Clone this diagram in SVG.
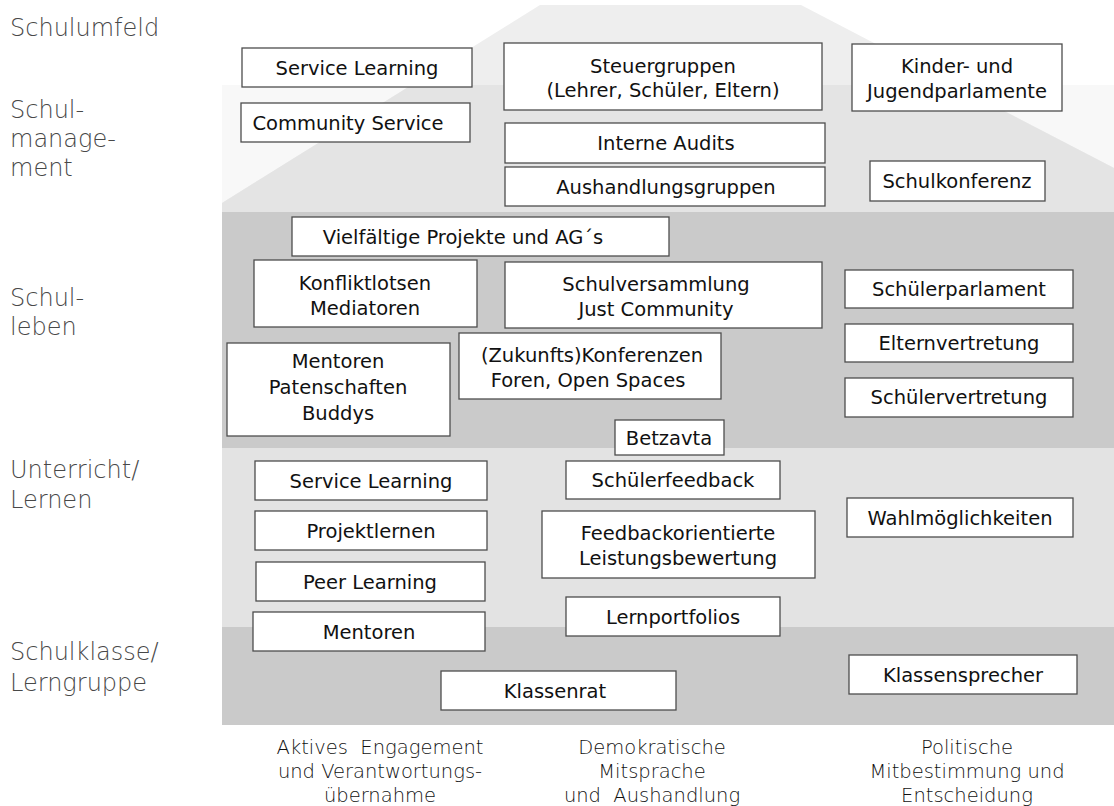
<svg xmlns="http://www.w3.org/2000/svg" width="1114" height="806" viewBox="0 0 1114 806">
  <style>
    .node rect { fill: #ffffff; stroke: #4d4d4d; stroke-width: 1.3; }
    .node text { font-family: "DejaVu Sans", "Liberation Sans", sans-serif; font-size: 19.5px; fill: #111111; text-anchor: middle; }
    .level { font-family: "DejaVu Sans", "Liberation Sans", sans-serif; font-size: 24px; font-weight: 200; fill: #484848; }
    .axis { font-family: "DejaVu Sans", "Liberation Sans", sans-serif; font-size: 19.5px; font-weight: 200; fill: #111111; text-anchor: middle; white-space: pre; }
  </style>

  <!-- background bands of the house -->
  <g id="bands">
    <rect x="0" y="0" width="1114" height="806" fill="#ffffff"/>
    <!-- management band behind the roof -->
    <rect x="222" y="85" width="892" height="127" fill="#f8f8f8"/>
    <!-- roof -->
    <polygon points="540,5 801,5 1114,168 1114,212 222,212 222,203" fill="#eeeeee"/>
    <!-- roof where it overlaps the management band -->
    <polygon points="411.5,85 954,85 1114,168 1114,212 222,212 222,203" fill="#e4e4e4"/>
    <!-- school life -->
    <rect x="222" y="212" width="892" height="236" fill="#cacaca"/>
    <!-- lessons / learning -->
    <rect x="222" y="448" width="892" height="179" fill="#e3e3e3"/>
    <!-- class / learning group -->
    <rect x="222" y="627" width="892" height="98" fill="#cacaca"/>
  </g>

  <!-- level labels on the left -->
  <g id="levels">
    <text class="level" x="10" y="36">Schulumfeld</text>
    <text class="level" x="10" y="118">Schul-<tspan x="10" dy="29">manage-</tspan><tspan x="10" dy="29">ment</tspan></text>
    <text class="level" x="10" y="306">Schul-<tspan x="10" dy="29">leben</tspan></text>
    <text class="level" x="10" y="478">Unterricht/<tspan x="10" dy="30">Lernen</tspan></text>
    <text class="level" x="10" y="660">Schulklasse/<tspan x="10" dy="31">Lerngruppe</tspan></text>
  </g>

  <!-- column labels at the bottom -->
  <g id="columns">
    <text class="axis" x="380" y="754">Aktives  Engagement<tspan x="380" dy="24">und Verantwortungs-</tspan><tspan x="380" dy="24">übernahme</tspan></text>
    <text class="axis" x="652" y="754">Demokratische<tspan x="652" dy="24">Mitsprache</tspan><tspan x="652" dy="24">und  Aushandlung</tspan></text>
    <text class="axis" x="967" y="754">Politische<tspan x="967" dy="24">Mitbestimmung und</tspan><tspan x="967" dy="24">Entscheidung</tspan></text>
  </g>

  <!-- Schulumfeld / Schulmanagement -->
  <g id="service-learning-umfeld" class="node">
    <rect x="242" y="48" width="230" height="39"/>
    <text x="357" y="75">Service Learning</text>
  </g>
  <g id="community-service" class="node">
    <rect x="241" y="103" width="229" height="39"/>
    <text x="348" y="130">Community Service</text>
  </g>
  <g id="steuergruppen" class="node">
    <rect x="504" y="43" width="318" height="67"/>
    <text x="663" y="73">Steuergruppen</text>
    <text x="663" y="97">(Lehrer, Schüler, Eltern)</text>
  </g>
  <g id="interne-audits" class="node">
    <rect x="505" y="123" width="320" height="40"/>
    <text x="666" y="150">Interne Audits</text>
  </g>
  <g id="aushandlungsgruppen" class="node">
    <rect x="505" y="167" width="320" height="39"/>
    <text x="666" y="194">Aushandlungsgruppen</text>
  </g>
  <g id="jugendparlamente" class="node">
    <rect x="852" y="44" width="210" height="67"/>
    <text x="957" y="73">Kinder- und</text>
    <text x="957" y="98">Jugendparlamente</text>
  </g>
  <g id="schulkonferenz" class="node">
    <rect x="870" y="161" width="175" height="40"/>
    <text x="957" y="188">Schulkonferenz</text>
  </g>

  <!-- Schulleben -->
  <g id="projekte-ags" class="node">
    <rect x="292" y="217" width="377" height="39"/>
    <text x="463" y="244">Vielfältige Projekte und AG´s</text>
  </g>
  <g id="konfliktlotsen" class="node">
    <rect x="254" y="260" width="223" height="67"/>
    <text x="365" y="290">Konfliktlotsen</text>
    <text x="365" y="315">Mediatoren</text>
  </g>
  <g id="schulversammlung" class="node">
    <rect x="505" y="262" width="317" height="66"/>
    <text x="656" y="291">Schulversammlung</text>
    <text x="656" y="316">Just Community</text>
  </g>
  <g id="konferenzen" class="node">
    <rect x="459" y="333" width="262" height="66"/>
    <text x="592" y="362">(Zukunfts)Konferenzen</text>
    <text x="588" y="387">Foren, Open Spaces</text>
  </g>
  <g id="mentoren-paten" class="node">
    <rect x="227" y="343" width="223" height="93"/>
    <text x="338" y="368">Mentoren</text>
    <text x="338" y="394">Patenschaften</text>
    <text x="338" y="420">Buddys</text>
  </g>
  <g id="schuelerparlament" class="node">
    <rect x="845" y="270" width="228" height="38"/>
    <text x="959" y="296">Schülerparlament</text>
  </g>
  <g id="elternvertretung" class="node">
    <rect x="845" y="324" width="228" height="38"/>
    <text x="959" y="350">Elternvertretung</text>
  </g>
  <g id="schuelervertretung" class="node">
    <rect x="845" y="378" width="228" height="39"/>
    <text x="959" y="404">Schülervertretung</text>
  </g>
  <g id="betzavta" class="node">
    <rect x="615" y="420" width="109" height="35"/>
    <text x="669" y="445">Betzavta</text>
  </g>

  <!-- Unterricht / Lernen -->
  <g id="service-learning-unterricht" class="node">
    <rect x="255" y="461" width="232" height="39"/>
    <text x="371" y="488">Service Learning</text>
  </g>
  <g id="projektlernen" class="node">
    <rect x="255" y="511" width="232" height="39"/>
    <text x="371" y="538">Projektlernen</text>
  </g>
  <g id="peer-learning" class="node">
    <rect x="256" y="562" width="229" height="39"/>
    <text x="370" y="589">Peer Learning</text>
  </g>
  <g id="schuelerfeedback" class="node">
    <rect x="566" y="461" width="214" height="38"/>
    <text x="673" y="487">Schülerfeedback</text>
  </g>
  <g id="leistungsbewertung" class="node">
    <rect x="542" y="511" width="273" height="67"/>
    <text x="678" y="540">Feedbackorientierte</text>
    <text x="678" y="565">Leistungsbewertung</text>
  </g>
  <g id="wahlmoeglichkeiten" class="node">
    <rect x="847" y="498" width="226" height="39"/>
    <text x="960" y="525">Wahlmöglichkeiten</text>
  </g>
  <g id="lernportfolios" class="node">
    <rect x="566" y="597" width="214" height="39"/>
    <text x="673" y="624">Lernportfolios</text>
  </g>
  <g id="mentoren" class="node">
    <rect x="253" y="612" width="232" height="39"/>
    <text x="369" y="639">Mentoren</text>
  </g>

  <!-- Schulklasse / Lerngruppe -->
  <g id="klassenrat" class="node">
    <rect x="441" y="671" width="235" height="39"/>
    <text x="555" y="698">Klassenrat</text>
  </g>
  <g id="klassensprecher" class="node">
    <rect x="849" y="655" width="228" height="39"/>
    <text x="963" y="682">Klassensprecher</text>
  </g>
</svg>
